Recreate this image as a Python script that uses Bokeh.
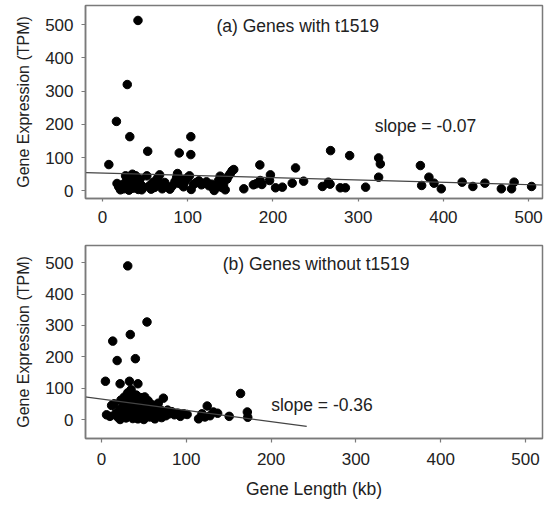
from bokeh.plotting import figure
from bokeh.layouts import column
from bokeh.models import Range1d, FixedTicker, Label
from bokeh.embed import file_html
from bokeh.resources import INLINE

# ---------------- data ----------------
top_x = [7.4, 16.3, 29, 32, 41.6, 53, 90, 103.6, 103.6,
         17, 19, 21, 23, 25, 27, 28, 29, 31, 33, 34, 35, 36, 38, 39, 40, 42, 44, 45, 46, 48,
         52, 55, 57, 59, 61, 63, 65, 67, 68, 70, 73, 76, 79, 82, 85, 87, 88, 90, 93, 95, 97,
         100, 102, 104, 107, 110, 113, 116, 119, 122, 125, 128, 130, 131, 134, 136, 138, 140,
         142, 144, 146, 148, 150, 152, 154,
         165.8, 177, 180, 184.6, 185, 187, 196, 197, 203, 211, 222.6, 226.5, 236, 258, 265,
         267, 267.6, 279, 285, 290, 308.7,
         324, 326, 324, 373, 374.5, 383, 389, 397.5, 422, 434.6, 448.7, 468, 480, 483, 503.5]
top_y = [79, 209, 320, 163, 513, 119, 114, 163, 109,
         22, 12, 3, 18, 6, 45, 30, 14, 2, 40, 22, 50, 8, 28, 45, 15, 4, 35, 18, 3, 10,
         45, 15, 5, 25, 10, 32, 40, 48, 20, 6, 25, 12, 5, 15, 28, 40, 52, 22, 35, 12, 28,
         40, 45, 4, 20, 25, 30, 18, 22, 27, 15, 20, 8, 1, 12, 30, 44, 10,
         18, 3, 35, 45, 52, 60, 64,
         6, 18, 21, 78, 31, 19, 31, 48, 9, 11, 23, 69, 29, 13, 26,
         20, 121, 9, 9, 106, 11,
         99, 81, 41, 76, 16, 41, 23, 6, 26, 13, 23, 6, 6, 26, 13]

bot_x = [31, 53.7, 34, 13.3, 18.5, 40, 4.7, 22, 33, 43,
         6, 10, 12, 15, 17, 19, 21, 22, 23, 25, 26, 27, 28, 29, 30, 31, 32, 33, 34, 35, 36,
         37, 38, 39, 40, 41, 42, 43, 44, 45, 46, 47, 48, 49, 50, 51, 52, 53, 55, 56, 57, 59,
         60, 62, 63, 65, 67, 68, 70, 71, 73, 74, 76, 78, 80, 83, 86, 90, 93, 97, 101,
         114.5, 118.5, 122, 124.7, 128, 132, 137, 150.6, 164, 172, 172.5]
bot_y = [490, 311, 271, 250, 188, 194, 122, 114, 122, 114,
         15, 10, 45, 50, 20, 8, 30, 0, 62, 40, 15, 72, 52, 5, 28, 85, 60, 42, 18, 95, 68,
         3, 48, 30, 12, 78, 55, 2, 38, 22, 70, 8, 50, 30, 0, 72, 45, 18, 60, 35, 8, 48,
         25, 12, 2, 38, 52, 18, 30, 6, 68, 22, 12, 30, 18, 25, 15, 20, 10, 18, 16,
         2, 18, 8, 43, 12, 24, 20, 10, 83, 24, 7]

top_slope, top_intercept = -0.07, 53.5
bot_slope, bot_intercept = -0.36, 65.0
top_line_x = [-20, 516]
bot_line_x = [-20, 242]

x_ticks = [0, 100, 200, 300, 400, 500]
y_ticks = [0, 100, 200, 300, 400, 500]

top_title = "(a) Genes with t1519"
bot_title = "(b) Genes without t1519"
top_slope_text = "slope = -0.07"
bot_slope_text = "slope = -0.36"
y_label = "Gene Expression (TPM)"
x_label = "Gene Length (kb)"

FONT = "Liberation Sans"
TXT = "#222222"
GRAY = "#7a7a7a"


def style(p):
    p.background_fill_color = "white"
    p.border_fill_color = "white"
    p.outline_line_color = GRAY
    p.outline_line_width = 1.5
    p.xgrid.visible = False
    p.ygrid.visible = False
    for ax in (p.xaxis[0], p.yaxis[0]):
        ax.ticker = FixedTicker(ticks=x_ticks)
        ax.axis_line_color = GRAY
        ax.axis_line_width = 1.5
        ax.major_tick_line_color = GRAY
        ax.major_tick_line_width = 1.2
        ax.major_tick_in = 0
        ax.minor_tick_line_color = None
        ax.major_label_text_font = FONT
        ax.major_label_text_font_size = "17px"
        ax.major_label_text_color = TXT
        ax.axis_label_text_font = FONT
        ax.axis_label_text_font_size = "16px"
        ax.axis_label_text_font_style = "normal"
        ax.axis_label_text_color = TXT
    p.yaxis[0].ticker = FixedTicker(ticks=y_ticks)
    p.yaxis[0].major_tick_out = 4
    p.yaxis[0].major_label_standoff = 8
    p.yaxis[0].axis_label = y_label
    p.yaxis[0].axis_label_standoff = 10


# ---------------- top panel ----------------
p1 = figure(width=547, height=240, output_backend="svg", toolbar_location=None,
            x_range=Range1d(-20, 516.3), y_range=Range1d(-23.2, 558),
            min_border_left=85, min_border_right=5, min_border_top=5, min_border_bottom=42)
style(p1)
p1.xaxis[0].major_tick_out = 3
p1.xaxis[0].major_label_standoff = 9

p1.scatter(top_x, top_y, size=8.5, color="black", marker="circle")
p1.line(top_line_x, [top_intercept + top_slope * x for x in top_line_x],
        line_color="#444444", line_width=1.2)
p1.add_layout(Label(x=229, y=495, text=top_title, text_align="center", text_baseline="middle",
                    text_font=FONT, text_font_size="17.5px", text_color=TXT))
p1.add_layout(Label(x=379, y=194, text=top_slope_text, text_align="center", text_baseline="middle",
                    text_font=FONT, text_font_size="17.5px", text_color=TXT))

# ---------------- bottom panel ----------------
p2 = figure(width=547, height=266, output_backend="svg", toolbar_location=None,
            x_range=Range1d(-18.8, 520), y_range=Range1d(-60.6, 555),
            min_border_left=85, min_border_right=4, min_border_top=5, min_border_bottom=68)
style(p2)
p2.xaxis[0].major_tick_out = 4
p2.xaxis[0].major_label_standoff = 10
p2.xaxis[0].axis_label = x_label
p2.xaxis[0].axis_label_text_font_size = "17.5px"
p2.xaxis[0].axis_label_standoff = 11

p2.scatter(bot_x, bot_y, size=8.5, color="black", marker="circle")
p2.line(bot_line_x, [bot_intercept + bot_slope * x for x in bot_line_x],
        line_color="#444444", line_width=1.2)
p2.add_layout(Label(x=253, y=497, text=bot_title, text_align="center", text_baseline="middle",
                    text_font=FONT, text_font_size="17.5px", text_color=TXT))
p2.add_layout(Label(x=260, y=45, text=bot_slope_text, text_align="center", text_baseline="middle",
                    text_font=FONT, text_font_size="17.5px", text_color=TXT))

layout = column(p1, p2, spacing=0)
open("out.html", "w").write(file_html(layout, INLINE))
